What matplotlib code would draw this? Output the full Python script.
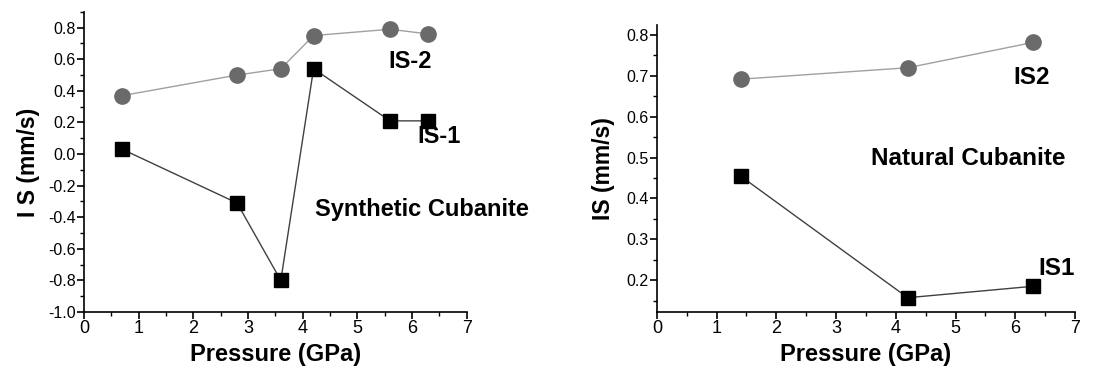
import matplotlib
matplotlib.use("Agg")
import matplotlib.pyplot as plt
from matplotlib.ticker import MultipleLocator

plt.rcParams['font.family'] = ['Liberation Sans', 'DejaVu Sans']

# Synthetic cubanite
p_syn = [0.7, 2.8, 3.6, 4.2, 5.6, 6.3]
is1_syn = [0.03, -0.31, -0.80, 0.54, 0.21, 0.21]
is2_syn = [0.37, 0.50, 0.54, 0.75, 0.79, 0.76]

# Natural cubanite
p_nat = [1.4, 4.2, 6.3]
is1_nat = [0.455, 0.157, 0.185]
is2_nat = [0.692, 0.720, 0.782]


def style_axis(ax, xminor, ymajor, yminor):
	for s in ['top', 'right']:
		ax.spines[s].set_visible(False)
	ax.spines['left'].set_linewidth(1.2)
	ax.spines['bottom'].set_linewidth(1.2)
	ax.set_xlim(0, 7)
	ax.xaxis.set_major_locator(MultipleLocator(1))
	ax.xaxis.set_minor_locator(MultipleLocator(xminor))
	ax.yaxis.set_major_locator(MultipleLocator(ymajor))
	ax.yaxis.set_minor_locator(MultipleLocator(yminor))
	ax.tick_params(which='major', direction='out', length=5, width=1.2, labelsize=11.5, pad=1)
	ax.tick_params(axis='x', which='major', labelsize=13)
	ax.tick_params(which='minor', direction='out', length=3, width=1.0)
	ax.set_xlabel("Pressure (GPa)", fontsize=17, fontweight='bold', labelpad=4)


def plot_pair(ax, p, is1, is2):
	ax.plot(p, is2, '-', color='#a0a0a0', lw=1.0, zorder=1)
	ax.plot(p, is2, 'o', color='#6a6a6a', ms=11, mec='#6a6a6a', zorder=2)
	ax.plot(p, is1, '-', color='#404040', lw=1.0, zorder=1)
	ax.plot(p, is1, 's', color='black', ms=10, zorder=3)


fig = plt.figure(figsize=(10.93, 3.71), dpi=100)

ax1 = fig.add_axes([0.0769, 0.159, 0.350, 0.809])
plot_pair(ax1, p_syn, is1_syn, is2_syn)
style_axis(ax1, 0.5, 0.2, 0.1)
ax1.set_ylim(-1.0, 0.9)
ax1.yaxis.set_major_formatter(matplotlib.ticker.FormatStrFormatter('%.1f'))
ax1.set_ylabel("I S (mm/s)", fontsize=16.5, fontweight='bold', labelpad=6)
ax1.text(5.96, 0.585, "IS-2", fontsize=17, fontweight='bold', ha='center', va='center')
ax1.text(6.5, 0.11, "IS-1", fontsize=17, fontweight='bold', ha='center', va='center')
ax1.text(4.22, -0.35, "Synthetic Cubanite", fontsize=17, fontweight='bold', ha='left', va='center')

ax2 = fig.add_axes([0.601, 0.159, 0.3825, 0.774])
plot_pair(ax2, p_nat, is1_nat, is2_nat)
style_axis(ax2, 0.5, 0.1, 0.05)
ax2.set_ylim(0.122, 0.825)
ax2.set_yticks([0.2, 0.3, 0.4, 0.5, 0.6, 0.7, 0.8])
ax2.set_ylabel("IS (mm/s)", fontsize=16.5, fontweight='bold', labelpad=8)
ax2.text(6.28, 0.697, "IS2", fontsize=17.5, fontweight='bold', ha='center', va='center')
ax2.text(6.70, 0.229, "IS1", fontsize=17.5, fontweight='bold', ha='center', va='center')
ax2.text(5.21, 0.499, "Natural Cubanite", fontsize=17.5, fontweight='bold', ha='center', va='center')

fig.savefig("out.png", dpi=100)
